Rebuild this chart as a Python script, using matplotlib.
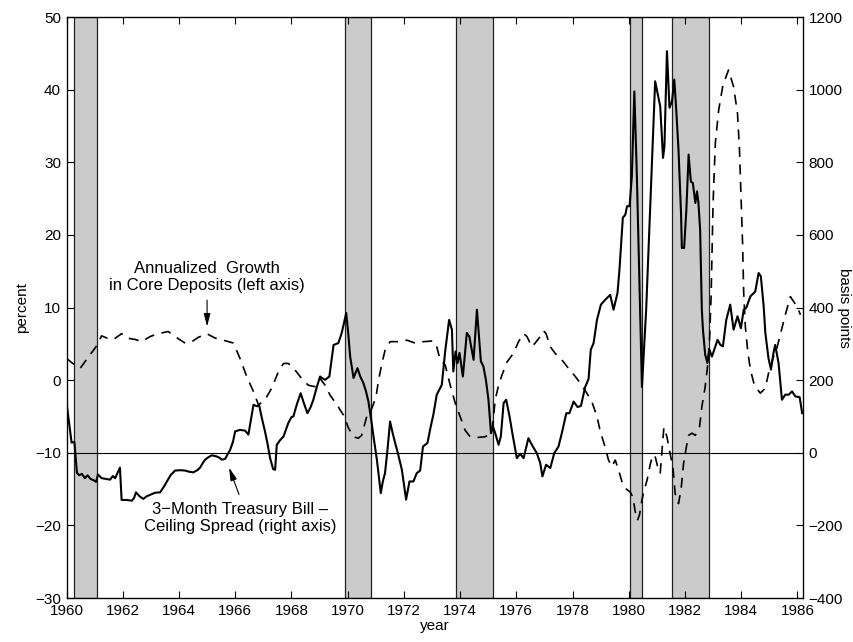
import matplotlib
matplotlib.use("Agg")
import matplotlib.pyplot as plt

plt.rcParams['font.family'] = ['Liberation Sans', 'DejaVu Sans']
plt.rcParams['font.size'] = 11

# recession periods (start, end) in fractional years
recessions = [(1960.25, 1961.08), (1969.92, 1970.84), (1973.85, 1975.18),
              (1980.03, 1980.47), (1981.54, 1982.87)]

# 3-month T-bill minus deposit ceiling rate, basis points (right axis)
spread_t = [1960.00, 1960.18, 1960.28, 1960.37, 1960.45, 1960.55, 1960.65, 1960.75,
            1960.85, 1960.95, 1961.05, 1961.12, 1961.25, 1961.40, 1961.55, 1961.65,
            1961.73, 1961.90, 1961.96, 1962.15, 1962.32, 1962.40, 1962.47, 1962.60,
            1962.73, 1962.85, 1962.97, 1963.15, 1963.33, 1963.45, 1963.57, 1963.70,
            1963.86, 1964.05, 1964.22, 1964.35, 1964.51, 1964.65, 1964.75, 1964.85,
            1964.93, 1965.05, 1965.17, 1965.34, 1965.45, 1965.52, 1965.64, 1965.82,
            1965.92, 1966.00, 1966.17, 1966.35, 1966.47, 1966.57, 1966.65, 1966.78,
            1966.85, 1966.95, 1967.06, 1967.15, 1967.24, 1967.35, 1967.42, 1967.48,
            1967.60, 1967.72, 1967.89, 1968.00, 1968.07, 1968.20, 1968.33, 1968.45,
            1968.57, 1968.68, 1968.78, 1968.90, 1969.02, 1969.10, 1969.20, 1969.35,
            1969.50, 1969.60, 1969.67, 1969.79, 1969.95, 1970.02, 1970.09, 1970.21,
            1970.35, 1970.45, 1970.56, 1970.65, 1970.74, 1970.85, 1970.92, 1971.04,
            1971.18, 1971.25, 1971.33, 1971.42, 1971.51, 1971.60, 1971.69, 1971.80,
            1971.93, 1972.08, 1972.20, 1972.34, 1972.46, 1972.58, 1972.68, 1972.84,
            1972.95, 1973.05, 1973.17, 1973.35, 1973.47, 1973.61, 1973.71, 1973.76,
            1973.84, 1973.91, 1973.98, 1974.10, 1974.24, 1974.33, 1974.48, 1974.60,
            1974.74, 1974.83, 1974.92, 1975.01, 1975.10, 1975.17, 1975.25, 1975.37,
            1975.45, 1975.55, 1975.64, 1975.76, 1975.88, 1976.02, 1976.14, 1976.26,
            1976.43, 1976.59, 1976.73, 1976.85, 1976.93, 1977.06, 1977.21, 1977.35,
            1977.50, 1977.62, 1977.78, 1977.89, 1978.04, 1978.18, 1978.30, 1978.45,
            1978.57, 1978.65, 1978.75, 1978.87, 1979.01, 1979.16, 1979.34, 1979.46,
            1979.60, 1979.67, 1979.79, 1979.88, 1979.94, 1980.03, 1980.11, 1980.20,
            1980.29, 1980.47, 1980.62, 1980.94, 1981.12, 1981.22, 1981.27, 1981.36,
            1981.45, 1981.54, 1981.62, 1981.69, 1981.77, 1981.86, 1981.89, 1981.97,
            1982.05, 1982.13, 1982.21, 1982.28, 1982.37, 1982.43, 1982.48, 1982.54,
            1982.60, 1982.64, 1982.72, 1982.80, 1982.87, 1982.96, 1983.08, 1983.16,
            1983.26, 1983.35, 1983.47, 1983.61, 1983.73, 1983.87, 1983.99, 1984.09,
            1984.18, 1984.33, 1984.50, 1984.62, 1984.70, 1984.80, 1984.86, 1984.97,
            1985.06, 1985.15, 1985.21, 1985.33, 1985.45, 1985.57, 1985.69, 1985.81,
            1985.93, 1986.08, 1986.17]
spread_bp = [138, 28, 30, -55, -62, -58, -70, -62,
             -72, -75, -80, -60, -70, -72, -74, -64,
             -70, -41, -130, -130, -132, -125, -109, -120,
             -127, -120, -116, -110, -109, -95, -79, -62,
             -49, -48, -49, -52, -54, -48, -41, -28,
             -19, -12, -7, -10, -14, -19, -17, 8,
             30, 59, 63, 61, 50, 95, 132, 128,
             132, 95, 59, 25, -14, -45, -47, 22,
             35, 45, 82, 98, 100, 135, 164, 135,
             109, 125, 146, 180, 210, 205, 201, 210,
             297, 300, 302, 330, 385, 330, 265, 206,
             233, 210, 192, 170, 141, 85, 45, -19,
             -111, -80, -56, 10, 86, 55, 27, -5,
             -47, -129, -79, -79, -56, -49, 17, 27,
             70, 105, 160, 187, 279, 366, 339, 224,
             279, 247, 275, 210, 330, 320, 256, 394,
             252, 238, 200, 146, 54, 72, 54, 22,
             45, 137, 146, 100, 45, -15, -3, -15,
             40, 17, -1, -28, -65, -33, -42, -1,
             17, 54, 109, 109, 141, 126, 129, 181,
             203, 284, 302, 366, 408, 421, 435, 394,
             440, 504, 647, 656, 679, 679, 761, 995,
             761, 181, 394, 1023, 954, 812, 844, 1106,
             950, 968, 1028, 945, 835, 660, 564, 564,
             669, 821, 747, 743, 688, 720, 688, 614,
             394, 339, 270, 247, 284, 265, 293, 311,
             297, 293, 366, 408, 339, 376, 343, 394,
             399, 431, 444, 495, 486, 403, 330, 261,
             229, 275, 297, 247, 146, 160, 160, 169,
             155, 153, 109]

# annualized growth in core deposits, percent (left axis)
growth_t = [1960.00, 1960.22, 1960.48, 1960.78, 1961.05, 1961.25, 1961.43, 1961.67,
            1961.96, 1962.14, 1962.44, 1962.68, 1962.97, 1963.27, 1963.62, 1963.86,
            1964.22, 1964.46, 1964.69, 1964.99, 1965.28, 1965.58, 1965.94, 1966.17,
            1966.41, 1966.63, 1966.83, 1967.06, 1967.30, 1967.54, 1967.72, 1967.89,
            1968.13, 1968.37, 1968.60, 1968.84, 1969.02, 1969.20, 1969.38, 1969.62,
            1969.85, 1970.03, 1970.21, 1970.38, 1970.50, 1970.68, 1970.86, 1971.01,
            1971.10, 1971.22, 1971.33, 1971.51, 1971.81, 1972.11, 1972.40, 1972.70,
            1973.05, 1973.17, 1973.29, 1973.47, 1973.65, 1973.83, 1974.00, 1974.18,
            1974.36, 1974.60, 1974.89, 1975.13, 1975.25, 1975.37, 1975.49, 1975.67,
            1975.90, 1976.08, 1976.26, 1976.38, 1976.55, 1976.67, 1976.85, 1976.97,
            1977.06, 1977.21, 1977.38, 1977.62, 1977.86, 1978.10, 1978.33, 1978.51,
            1978.69, 1978.87, 1978.99, 1979.16, 1979.28, 1979.40, 1979.52, 1979.64,
            1979.76, 1979.88, 1980.05, 1980.15, 1980.23, 1980.31, 1980.38, 1980.47,
            1980.55, 1980.65, 1980.77, 1980.86, 1980.94, 1981.06, 1981.12, 1981.25,
            1981.36, 1981.47, 1981.57, 1981.65, 1981.77, 1981.86, 1981.95, 1982.05,
            1982.13, 1982.25, 1982.37, 1982.52, 1982.60, 1982.72, 1982.80, 1982.87,
            1982.93, 1983.00, 1983.08, 1983.20, 1983.35, 1983.55, 1983.73, 1983.87,
            1983.94, 1983.99, 1984.05, 1984.09, 1984.15, 1984.23, 1984.33, 1984.47,
            1984.68, 1984.86, 1984.97, 1985.13, 1985.27, 1985.42, 1985.57, 1985.75,
            1985.99, 1986.11]
growth_pct = [3.0, 2.3, 1.6, 3.2, 4.6, 6.1, 5.8, 5.6,
              6.4, 5.8, 5.6, 5.3, 6.0, 6.4, 6.7, 6.0,
              5.1, 5.3, 5.9, 6.4, 5.8, 5.5, 5.1, 3.0,
              0.5, -1.4, -3.4, -2.7, -1.1, 1.2, 2.3, 2.3,
              1.4, 0.2, -0.7, -0.9, 0.2, -0.7, -2.1, -3.4,
              -4.8, -6.6, -7.8, -8.0, -7.6, -5.0, -3.9, -2.3,
              0.0, 2.3, 4.1, 5.3, 5.3, 5.5, 5.1, 5.3,
              5.4, 4.6, 2.8, 2.1, -0.7, -3.2, -5.0, -6.9,
              -7.8, -7.9, -7.8, -7.3, -2.7, -0.7, 0.7, 2.5,
              3.7, 5.3, 6.4, 6.0, 4.6, 5.1, 6.0, 6.8,
              6.4, 4.6, 3.7, 2.8, 1.6, 0.5, -0.7, -1.8,
              -3.0, -5.0, -7.1, -9.2, -11.0, -11.9, -11.0, -12.4,
              -14.0, -14.9, -15.4, -16.1, -18.1, -19.3, -18.6, -16.5,
              -15.1, -13.8, -11.5, -10.3, -10.5, -12.4, -12.8, -6.5,
              -7.8, -10.1, -11.9, -15.6, -17.0, -15.1, -11.5, -9.2,
              -7.6, -7.3, -7.6, -6.4, -3.7, -0.9, 1.8, 5.1,
              11.5, 24.3, 32.6, 37.2, 40.6, 42.7, 40.4, 36.7,
              31.7, 25.7, 18.8, 12.0, 7.3, 4.1, 1.4, -0.7,
              -1.8, -1.1, 0.9, 3.0, 4.4, 6.7, 9.0, 11.5,
              10.1, 9.0]

year_ticks = list(range(1960, 1987, 2))

fig = plt.figure(figsize=(8.54, 6.42), dpi=100)
ax = fig.add_subplot(111)
fig.subplots_adjust(left=0.0779, right=0.9403, bottom=0.0685, top=0.9735)
ax2 = ax.twinx()

for a, b in recessions:
    ax.axvspan(a, b, facecolor='#cbcbcb', edgecolor='#202020', lw=0.9, zorder=0)

ax.plot(growth_t, growth_pct, color='k', lw=1.2, ls=(0, (6, 4.5)), zorder=3)
ax2.axhline(0, color='k', lw=0.8)
ax2.plot(spread_t, spread_bp, color='k', lw=1.5, zorder=3)

ax.set_xlim(1960, 1986.2)
ax.set_ylim(-30, 50)
ax2.set_ylim(-400, 1200)
ax.set_xticks(year_ticks)
ax.set_yticks(range(-30, 51, 10))
ax2.set_yticks(range(-400, 1201, 200))

ax.tick_params(direction='in', length=5, top=True, right=False, labelsize=11, pad=4)
ax2.tick_params(direction='in', length=5, labelsize=11, pad=4)
for s in ax2.spines.values():
    s.set_linewidth(0.9)

ax.set_xlabel('year', labelpad=1)
ax.set_ylabel('percent', labelpad=4)
ax2.set_ylabel('basis points', rotation=-90, labelpad=6)

# callout labels
ax.text(1965.0, 14.2, 'Annualized  Growth\nin Core Deposits (left axis)',
        ha='center', va='center', multialignment='center', fontsize=12)
ax.annotate('', xy=(1965.0, 7.0), xytext=(1965.0, 11.4),
            arrowprops=dict(arrowstyle='-|>,head_length=0.7,head_width=0.18',
                            color='k', lw=0.8))
ax.text(1966.17, -19.0, '3\u2212Month Treasury Bill \u2013\nCeiling Spread (right axis)',
        ha='center', va='center', multialignment='center', fontsize=12)
ax.annotate('', xy=(1965.75, -11.7), xytext=(1966.17, -16.1),
            arrowprops=dict(arrowstyle='-|>,head_length=0.7,head_width=0.18',
                            color='k', lw=0.8))

fig.savefig('out.png', dpi=100)
